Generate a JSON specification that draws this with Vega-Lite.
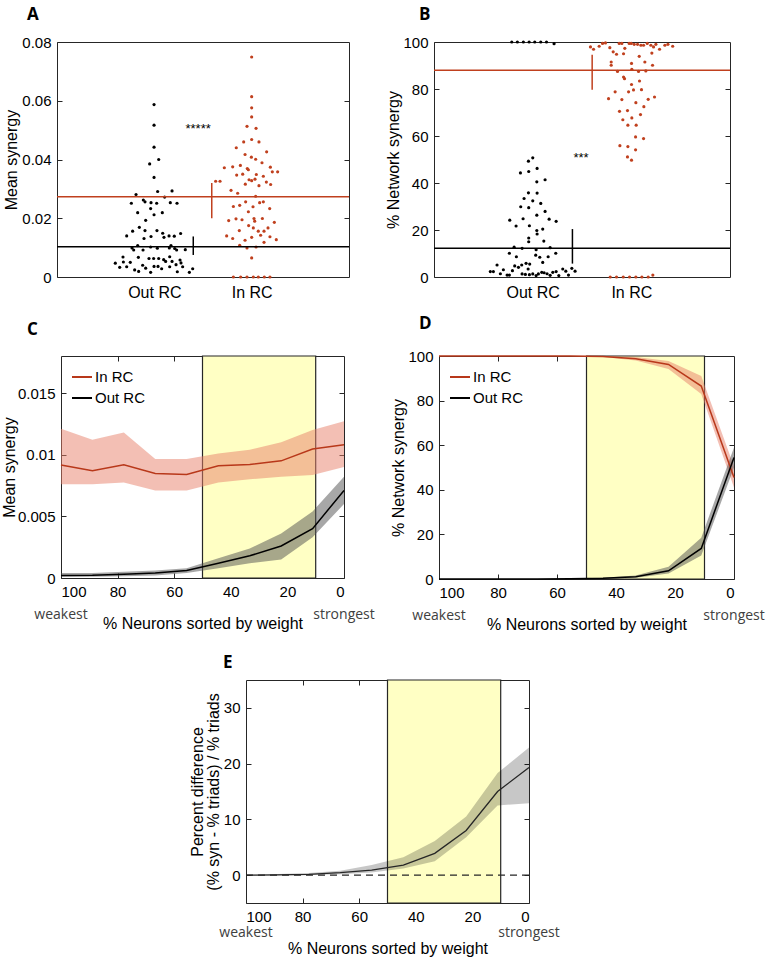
{
"$schema": "https://vega.github.io/schema/vega-lite/v6.json",
"padding": {"left": 0, "top": 5, "right": 5, "bottom": 5},
"background": "white",
"config": {
 "font": "Arial",
 "view": {"stroke": "#262626", "strokeWidth": 1},
 "axis": {"grid": false, "domain": false, "tickSize": -5, "tickColor": "#262626", "labelFontSize": 15, "labelColor": "#000", "labelPadding": 11, "titleFontSize": 16, "titleFontWeight": "normal", "titleColor": "#000", "labelFont": "Arial", "titleFont": "Arial"},
 "title": {"font": "Open Sans", "fontSize": 17, "fontWeight": "bold", "anchor": "start", "frame": "group", "baseline": "alphabetic", "color": "#000"},
 "legend": {"symbolType": "stroke", "symbolStrokeWidth": 2, "symbolSize": 400, "labelFontSize": 15, "labelFont": "Arial", "labelColor": "#000", "rowPadding": 2, "padding": 0, "offset": 10, "labelOffset": 2}
},
"datasets": {
 "Aout": [{"x":0.997,"y":0.0587},{"x":0.997,"y":0.0517},{"x":0.997,"y":0.0442},{"x":0.952,"y":0.0385},{"x":1.045,"y":0.04},{"x":0.997,"y":0.0339},{"x":1.034,"y":0.0291},{"x":1.182,"y":0.0293},{"x":0.812,"y":0.0281},{"x":0.764,"y":0.0251},{"x":0.887,"y":0.0262},{"x":0.904,"y":0.0256},{"x":0.966,"y":0.0253},{"x":1.024,"y":0.0251},{"x":1.106,"y":0.0272},{"x":1.164,"y":0.0253},{"x":1.233,"y":0.0251},{"x":0.962,"y":0.0233},{"x":0.829,"y":0.0219},{"x":0.997,"y":0.0212},{"x":1.082,"y":0.0219},{"x":0.911,"y":0.0193},{"x":0.777,"y":0.0156},{"x":0.716,"y":0.014},{"x":0.846,"y":0.0169},{"x":0.904,"y":0.0158},{"x":0.894,"y":0.0131},{"x":0.966,"y":0.0138},{"x":1.027,"y":0.0158},{"x":1.086,"y":0.0149},{"x":1.099,"y":0.0135},{"x":1.151,"y":0.014},{"x":1.205,"y":0.0139},{"x":1.27,"y":0.0148},{"x":0.771,"y":0.0099},{"x":0.788,"y":0.0092},{"x":0.829,"y":0.0107},{"x":0.884,"y":0.0092},{"x":0.962,"y":0.0102},{"x":1.031,"y":0.0098},{"x":1.154,"y":0.0099},{"x":1.171,"y":0.0107},{"x":1.209,"y":0.0097},{"x":1.229,"y":0.0092},{"x":1.318,"y":0.0093},{"x":0.599,"y":0.0047},{"x":0.644,"y":0.0033},{"x":0.678,"y":0.0068},{"x":0.682,"y":0.0051},{"x":0.716,"y":0.0035},{"x":0.753,"y":0.005},{"x":0.798,"y":0.0024},{"x":0.836,"y":0.0067},{"x":0.839,"y":0.0019},{"x":0.88,"y":0.004},{"x":0.911,"y":0.003},{"x":0.945,"y":0.0063},{"x":0.962,"y":0.0016},{"x":0.997,"y":0.0036},{"x":0.993,"y":0.0063},{"x":1.038,"y":0.0036},{"x":1.045,"y":0.0063},{"x":1.075,"y":0.0028},{"x":1.096,"y":0.0059},{"x":1.116,"y":0.0053},{"x":1.158,"y":0.0069},{"x":1.158,"y":0.0035},{"x":1.182,"y":0.0053},{"x":1.223,"y":0.0042},{"x":1.236,"y":0.0018},{"x":1.264,"y":0.0058},{"x":1.274,"y":0.0048},{"x":1.291,"y":0.0035},{"x":1.36,"y":0.0016},{"x":1.394,"y":0.0028}],
 "Ain": [{"x":2.0,"y":0.0749},{"x":2.0,"y":0.0614},{"x":2.0,"y":0.0576},{"x":2.0,"y":0.0545},{"x":1.952,"y":0.0513},{"x":2.045,"y":0.0506},{"x":1.842,"y":0.044},{"x":1.918,"y":0.046},{"x":2.0,"y":0.0468},{"x":2.075,"y":0.046},{"x":1.932,"y":0.0417},{"x":2.154,"y":0.0426},{"x":1.997,"y":0.0408},{"x":2.041,"y":0.0401},{"x":2.106,"y":0.0389},{"x":1.719,"y":0.0372},{"x":1.805,"y":0.0375},{"x":1.884,"y":0.038},{"x":1.955,"y":0.0369},{"x":2.192,"y":0.0374},{"x":1.846,"y":0.0347},{"x":1.908,"y":0.035},{"x":1.966,"y":0.0365},{"x":2.048,"y":0.0349},{"x":2.12,"y":0.0343},{"x":2.212,"y":0.0358},{"x":2.267,"y":0.0358},{"x":1.63,"y":0.0326},{"x":1.675,"y":0.0326},{"x":1.935,"y":0.0316},{"x":1.973,"y":0.0331},{"x":2.0,"y":0.0328},{"x":2.034,"y":0.0333},{"x":2.075,"y":0.0311},{"x":2.151,"y":0.0323},{"x":2.195,"y":0.0315},{"x":1.788,"y":0.0295},{"x":1.856,"y":0.0285},{"x":2.041,"y":0.0275},{"x":1.938,"y":0.0256},{"x":2.12,"y":0.0256},{"x":1.812,"y":0.024},{"x":1.877,"y":0.0244},{"x":1.966,"y":0.0222},{"x":2.014,"y":0.0239},{"x":2.082,"y":0.0253},{"x":2.185,"y":0.0233},{"x":1.764,"y":0.0192},{"x":1.839,"y":0.0198},{"x":1.901,"y":0.0195},{"x":2.024,"y":0.0199},{"x":2.031,"y":0.019},{"x":2.11,"y":0.0199},{"x":1.969,"y":0.0175},{"x":1.873,"y":0.0158},{"x":2.017,"y":0.0167},{"x":2.068,"y":0.0156},{"x":2.127,"y":0.0156},{"x":2.168,"y":0.0167},{"x":2.233,"y":0.0186},{"x":1.743,"y":0.014},{"x":1.805,"y":0.0131},{"x":1.932,"y":0.0125},{"x":2.0,"y":0.0135},{"x":2.092,"y":0.0142},{"x":2.188,"y":0.0137},{"x":2.253,"y":0.0127},{"x":1.877,"y":0.0108},{"x":1.952,"y":0.0099},{"x":2.045,"y":0.0102},{"x":2.127,"y":0.0118},{"x":2.0,"y":0.0065},{"x":1.812,"y":0},{"x":1.887,"y":0},{"x":1.952,"y":0},{"x":2.017,"y":0},{"x":2.068,"y":0},{"x":2.13,"y":0},{"x":2.188,"y":0}],
 "Astats": [{"group":"Out RC","mean":0.0103,"ex":1.4,"lo":0.0075,"hi":0.0138},{"group":"In RC","mean":0.0273,"ex":1.59,"lo":0.02,"hi":0.032}],
 "Astar": [{"x":1.45,"y":0.0505,"label":"*****"}],
 "Bout": [{"x":0.788,"y":100},{"x":0.845,"y":100},{"x":0.906,"y":100},{"x":0.964,"y":100},{"x":1.021,"y":100},{"x":1.082,"y":100},{"x":1.14,"y":100},{"x":1.217,"y":99.3},{"x":1.001,"y":50.7},{"x":0.957,"y":49.3},{"x":1.045,"y":46.2},{"x":0.876,"y":44.3},{"x":0.96,"y":44.9},{"x":1.126,"y":41.4},{"x":1.042,"y":40.5},{"x":0.957,"y":35.8},{"x":1.045,"y":35.7},{"x":0.913,"y":33.4},{"x":1.001,"y":32.4},{"x":1.082,"y":31.3},{"x":0.879,"y":29.9},{"x":0.96,"y":29.5},{"x":1.126,"y":27.9},{"x":1.042,"y":26.3},{"x":0.768,"y":24.2},{"x":0.903,"y":24.8},{"x":1.167,"y":24.6},{"x":1.238,"y":23.7},{"x":0.832,"y":21.7},{"x":0.967,"y":21.8},{"x":1.102,"y":20.4},{"x":1.042,"y":19.8},{"x":1.045,"y":18.3},{"x":0.96,"y":16.6},{"x":0.96,"y":15.0},{"x":1.113,"y":15.3},{"x":0.812,"y":12.7},{"x":0.893,"y":12.2},{"x":1.035,"y":11.6},{"x":1.177,"y":12.5},{"x":0.764,"y":10.1},{"x":1.234,"y":10.1},{"x":0.835,"y":8.6},{"x":1.072,"y":8.4},{"x":1.157,"y":8.6},{"x":1.031,"y":9.3},{"x":1.102,"y":6.2},{"x":0.639,"y":5.1},{"x":0.818,"y":4.7},{"x":0.856,"y":4.1},{"x":0.889,"y":5.1},{"x":0.933,"y":5.8},{"x":0.97,"y":5.5},{"x":0.954,"y":3.4},{"x":0.571,"y":2.3},{"x":0.602,"y":2.3},{"x":0.703,"y":3.1},{"x":0.673,"y":1.4},{"x":0.741,"y":0.8},{"x":0.764,"y":0.8},{"x":0.795,"y":2.7},{"x":0.893,"y":1.3},{"x":0.926,"y":1.1},{"x":0.967,"y":1.0},{"x":1.001,"y":1.3},{"x":1.035,"y":0.6},{"x":1.058,"y":1.3},{"x":1.092,"y":2.0},{"x":1.116,"y":1.8},{"x":1.146,"y":1.4},{"x":1.177,"y":0.7},{"x":1.204,"y":2.0},{"x":1.238,"y":2.3},{"x":1.265,"y":0.6},{"x":1.305,"y":3.4},{"x":1.336,"y":2.5},{"x":1.363,"y":0.8},{"x":1.397,"y":3.7},{"x":1.43,"y":2.5}],
 "Bin": [{"x":1.586,"y":97.9},{"x":1.617,"y":96.9},{"x":1.674,"y":98.2},{"x":1.708,"y":99.4},{"x":1.738,"y":99.6},{"x":1.782,"y":97.6},{"x":1.816,"y":95.8},{"x":1.85,"y":94.8},{"x":1.877,"y":99.4},{"x":1.904,"y":99.4},{"x":1.921,"y":95.0},{"x":1.934,"y":97.3},{"x":1.978,"y":99.4},{"x":1.999,"y":99.4},{"x":2.029,"y":99.0},{"x":2.063,"y":99.0},{"x":2.097,"y":98.6},{"x":2.124,"y":98.6},{"x":2.161,"y":99.4},{"x":2.198,"y":98.6},{"x":2.225,"y":97.9},{"x":2.249,"y":99.0},{"x":2.286,"y":96.9},{"x":2.34,"y":98.6},{"x":2.371,"y":99.0},{"x":2.419,"y":98.2},{"x":1.796,"y":91.5},{"x":1.796,"y":90.1},{"x":2.002,"y":90.9},{"x":2.137,"y":91.5},{"x":2.215,"y":90.1},{"x":2.208,"y":95.3},{"x":2.08,"y":93.9},{"x":1.86,"y":87.5},{"x":2.005,"y":88.4},{"x":2.073,"y":87.5},{"x":2.147,"y":87.7},{"x":1.921,"y":85.1},{"x":1.931,"y":84.4},{"x":2.083,"y":83.4},{"x":2.002,"y":81.9},{"x":2.022,"y":79.6},{"x":2.103,"y":79.7},{"x":1.836,"y":78.8},{"x":1.972,"y":78.8},{"x":1.769,"y":75.9},{"x":1.904,"y":75.5},{"x":2.046,"y":74.2},{"x":2.171,"y":75.6},{"x":2.235,"y":76.6},{"x":2.127,"y":72.5},{"x":1.88,"y":70.5},{"x":1.961,"y":70.8},{"x":2.093,"y":69.1},{"x":1.914,"y":66.9},{"x":2.005,"y":67.7},{"x":2.049,"y":64.6},{"x":1.965,"y":64.6},{"x":2.043,"y":59.6},{"x":2.124,"y":58.9},{"x":1.884,"y":55.9},{"x":1.965,"y":55.5},{"x":2.043,"y":54.1},{"x":1.961,"y":51.1},{"x":2.002,"y":49.7},{"x":1.786,"y":0},{"x":1.85,"y":0},{"x":1.918,"y":0},{"x":1.982,"y":0},{"x":2.046,"y":0},{"x":2.107,"y":0},{"x":2.171,"y":0},{"x":2.218,"y":0.8}],
 "Bstats": [{"group":"Out RC","mean":12.2,"ex":1.403,"lo":5.7,"hi":20.4},{"group":"In RC","mean":88.0,"ex":1.603,"lo":79.7,"hi":94.6}],
 "Bstar": [{"x":1.49,"y":50.8,"label":"***"}],
 "C": [
  {"series":"In RC","x":100,"mean":0.00916,"lo":0.0076,"hi":0.0121},
  {"series":"In RC","x":88.9,"mean":0.0087,"lo":0.0076,"hi":0.0112},
  {"series":"In RC","x":77.8,"mean":0.00918,"lo":0.00775,"hi":0.0118},
  {"series":"In RC","x":66.7,"mean":0.00848,"lo":0.0071,"hi":0.00965},
  {"series":"In RC","x":55.6,"mean":0.0084,"lo":0.0071,"hi":0.00965},
  {"series":"In RC","x":44.4,"mean":0.0091,"lo":0.00775,"hi":0.0101},
  {"series":"In RC","x":33.3,"mean":0.0092,"lo":0.008,"hi":0.0104},
  {"series":"In RC","x":22.2,"mean":0.0095,"lo":0.0082,"hi":0.011},
  {"series":"In RC","x":11.1,"mean":0.01046,"lo":0.00835,"hi":0.012},
  {"series":"In RC","x":0,"mean":0.0108,"lo":0.009,"hi":0.0127},
  {"series":"Out RC","x":100,"mean":0.0002,"lo":0.0001,"hi":0.0004},
  {"series":"Out RC","x":88.9,"mean":0.00022,"lo":0.0001,"hi":0.0004},
  {"series":"Out RC","x":77.8,"mean":0.0003,"lo":0.00015,"hi":0.0005},
  {"series":"Out RC","x":66.7,"mean":0.0004,"lo":0.0002,"hi":0.0006},
  {"series":"Out RC","x":55.6,"mean":0.0006,"lo":0.0004,"hi":0.0008},
  {"series":"Out RC","x":44.4,"mean":0.0012,"lo":0.0008,"hi":0.0016},
  {"series":"Out RC","x":33.3,"mean":0.0018,"lo":0.0012,"hi":0.0024},
  {"series":"Out RC","x":22.2,"mean":0.0026,"lo":0.0015,"hi":0.0036},
  {"series":"Out RC","x":11.1,"mean":0.004,"lo":0.0033,"hi":0.0054},
  {"series":"Out RC","x":0,"mean":0.0071,"lo":0.006,"hi":0.0082}
 ],
 "D": [
  {"series":"In RC","x":100,"mean":100,"lo":100,"hi":100},
  {"series":"In RC","x":88.9,"mean":100,"lo":100,"hi":100},
  {"series":"In RC","x":77.8,"mean":100,"lo":100,"hi":100},
  {"series":"In RC","x":66.7,"mean":100,"lo":100,"hi":100},
  {"series":"In RC","x":55.6,"mean":100,"lo":99.9,"hi":100},
  {"series":"In RC","x":44.4,"mean":99.8,"lo":99.5,"hi":100},
  {"series":"In RC","x":33.3,"mean":98.8,"lo":98.0,"hi":99.5},
  {"series":"In RC","x":22.2,"mean":96.2,"lo":94.2,"hi":97.8},
  {"series":"In RC","x":11.1,"mean":86.5,"lo":83.0,"hi":91.0},
  {"series":"In RC","x":0,"mean":45.5,"lo":41.0,"hi":50.5},
  {"series":"Out RC","x":100,"mean":0,"lo":0,"hi":0},
  {"series":"Out RC","x":88.9,"mean":0,"lo":0,"hi":0},
  {"series":"Out RC","x":77.8,"mean":0,"lo":0,"hi":0},
  {"series":"Out RC","x":66.7,"mean":0,"lo":0,"hi":0.05},
  {"series":"Out RC","x":55.6,"mean":0.1,"lo":0,"hi":0.2},
  {"series":"Out RC","x":44.4,"mean":0.3,"lo":0.1,"hi":0.6},
  {"series":"Out RC","x":33.3,"mean":1.0,"lo":0.6,"hi":1.6},
  {"series":"Out RC","x":22.2,"mean":3.7,"lo":2.5,"hi":5.5},
  {"series":"Out RC","x":11.1,"mean":13.7,"lo":10.5,"hi":18.5},
  {"series":"Out RC","x":0,"mean":54.5,"lo":50.0,"hi":59.0}
 ],
 "E": [
  {"x":100,"mean":0,"lo":0,"hi":0.05},
  {"x":88.9,"mean":0.05,"lo":0,"hi":0.2},
  {"x":77.8,"mean":0.15,"lo":0.02,"hi":0.4},
  {"x":66.7,"mean":0.45,"lo":0.15,"hi":0.8},
  {"x":55.6,"mean":0.9,"lo":0.45,"hi":1.8},
  {"x":44.4,"mean":1.8,"lo":1.2,"hi":3.2},
  {"x":33.3,"mean":3.9,"lo":2.5,"hi":6.1},
  {"x":22.2,"mean":8.0,"lo":6.8,"hi":10.5},
  {"x":11.1,"mean":15.0,"lo":12.5,"hi":18.3},
  {"x":0,"mean":19.3,"lo":12.9,"hi":22.9}
 ],
 "ends": [{"x":100,"label":"weakest"},{"x":0,"label":"strongest"}],
 "box": [{"start":50,"end":10}],
 "zero": [{"y":0}]
},
"bounds": "flush",
"spacing": 314,
"vconcat": [
 {"hconcat": [
  {"width": 292, "height": 235,
   "title": {"text": "A", "dx": -30, "offset": 11},
   "resolve": {"axis": {"y": "independent"}},
   "layer": [
    {"data": {"name": "Aout"}, "mark": {"type": "circle", "size": 10, "color": "#000", "opacity": 1},
     "encoding": {"x": {"field": "x", "type": "quantitative", "scale": {"domain": [0, 3], "nice": false, "zero": false}, "axis": {"values": [1, 2], "labelExpr": "datum.value == 1 ? 'Out RC' : 'In RC'", "ticks": false, "title": null, "labelPadding": 7, "labelFontSize": 16}},
      "y": {"field": "y", "type": "quantitative", "scale": {"domain": [0, 0.08], "nice": false}, "axis": {"values": [0, 0.02, 0.04, 0.06, 0.08], "format": "~g", "title": "Mean synergy", "titlePadding": 2}}}},
    {"data": {"name": "Ain"}, "mark": {"type": "circle", "size": 10, "color": "#c0401e", "opacity": 1},
     "encoding": {"x": {"field": "x", "type": "quantitative"}, "y": {"field": "y", "type": "quantitative", "axis": null}}},
    {"data": {"name": "Astats"}, "mark": {"type": "rule", "strokeWidth": 1.5},
     "encoding": {"y": {"field": "mean", "type": "quantitative", "axis": null}, "color": {"field": "group", "type": "nominal", "scale": {"domain": ["Out RC", "In RC"], "range": ["#000000", "#c0401e"]}, "legend": null}}},
    {"data": {"name": "Astats"}, "mark": {"type": "rule", "strokeWidth": 1.5},
     "encoding": {"x": {"field": "ex", "type": "quantitative"}, "y": {"field": "lo", "type": "quantitative", "axis": null}, "y2": {"field": "hi"}, "color": {"field": "group", "type": "nominal", "legend": null}}},
    {"data": {"name": "Astar"}, "mark": {"type": "text", "fontSize": 13, "baseline": "middle", "color": "#000"},
     "encoding": {"x": {"field": "x", "type": "quantitative"}, "y": {"field": "y", "type": "quantitative", "axis": {"orient": "right", "labels": false, "title": null, "values": [0.02, 0.04, 0.06]}}, "text": {"field": "label"}}}
   ]},
  {"width": 296, "height": 235,
   "title": {"text": "B", "dx": -15, "offset": 11},
   "resolve": {"axis": {"y": "independent"}},
   "layer": [
    {"data": {"name": "Bout"}, "mark": {"type": "circle", "size": 10, "color": "#000", "opacity": 1},
     "encoding": {"x": {"field": "x", "type": "quantitative", "scale": {"domain": [0, 3], "nice": false, "zero": false}, "axis": {"values": [1, 2], "labelExpr": "datum.value == 1 ? 'Out RC' : 'In RC'", "ticks": false, "title": null, "labelPadding": 7, "labelFontSize": 16}},
      "y": {"field": "y", "type": "quantitative", "scale": {"domain": [0, 100], "nice": false}, "axis": {"values": [0, 20, 40, 60, 80, 100], "title": "% Network synergy", "titlePadding": 1}}}},
    {"data": {"name": "Bin"}, "mark": {"type": "circle", "size": 10, "color": "#c0401e", "opacity": 1},
     "encoding": {"x": {"field": "x", "type": "quantitative"}, "y": {"field": "y", "type": "quantitative", "axis": null}}},
    {"data": {"name": "Bstats"}, "mark": {"type": "rule", "strokeWidth": 1.5},
     "encoding": {"y": {"field": "mean", "type": "quantitative", "axis": null}, "color": {"field": "group", "type": "nominal", "scale": {"domain": ["Out RC", "In RC"], "range": ["#000000", "#c0401e"]}, "legend": null}}},
    {"data": {"name": "Bstats"}, "mark": {"type": "rule", "strokeWidth": 1.5},
     "encoding": {"x": {"field": "ex", "type": "quantitative"}, "y": {"field": "lo", "type": "quantitative", "axis": null}, "y2": {"field": "hi"}, "color": {"field": "group", "type": "nominal", "legend": null}}},
    {"data": {"name": "Bstar"}, "mark": {"type": "text", "fontSize": 13, "baseline": "middle", "color": "#000"},
     "encoding": {"x": {"field": "x", "type": "quantitative"}, "y": {"field": "y", "type": "quantitative", "axis": {"orient": "right", "labels": false, "title": null, "values": [20, 40, 60, 80]}}, "text": {"field": "label"}}}
   ]}
 ], "spacing": 85, "bounds": "flush"},
 {"vconcat": [
  {"hconcat": [
   {"width": 4, "height": 10, "view": {"stroke": null}, "data": {"values": []}, "mark": {"type": "point", "opacity": 0}},
   {"width": 283, "height": 222,
    "title": {"text": "C", "dx": -34, "offset": 16},
    "resolve": {"scale": {"color": "independent"}, "axis": {"x": "independent", "y": "independent"}},
    "layer": [
     {"data": {"name": "box"}, "mark": {"type": "rect", "fill": "#ffffc4", "stroke": "#262626", "strokeWidth": 1.2},
      "encoding": {"x": {"field": "start", "type": "quantitative", "scale": {"domain": [0, 100], "reverse": true, "nice": false}, "axis": null}, "x2": {"field": "end"}}},
     {"data": {"name": "C"}, "mark": {"type": "area", "opacity": 0.5},
      "encoding": {"x": {"field": "x", "type": "quantitative", "axis": null}, "y": {"field": "lo", "type": "quantitative", "scale": {"domain": [0, 0.018], "nice": false}, "axis": null}, "y2": {"field": "hi"},
       "color": {"field": "series", "type": "nominal", "scale": {"domain": ["In RC", "Out RC"], "range": ["#e8806a", "#505050"]}, "legend": null}}},
     {"data": {"name": "C"}, "mark": {"type": "line", "strokeWidth": 1.5},
      "encoding": {"x": {"field": "x", "type": "quantitative", "axis": {"values": [100, 80, 60, 40, 20, 0], "title": "% Neurons sorted by weight", "titlePadding": 16}},
       "y": {"field": "mean", "type": "quantitative", "axis": {"values": [0, 0.005, 0.01, 0.015], "format": "~g", "title": "Mean synergy", "titlePadding": 0}},
       "color": {"field": "series", "type": "nominal", "scale": {"domain": ["In RC", "Out RC"], "range": ["#b8381a", "#000000"]}, "legend": {"orient": "top-left", "title": null}}}},
     {"data": {"name": "ends"}, "mark": {"type": "text", "font": "Open Sans", "fontSize": 14, "color": "#404040", "dy": 37, "baseline": "middle"},
      "encoding": {"x": {"field": "x", "type": "quantitative", "axis": {"orient": "top", "labels": false, "title": null, "values": [80, 60, 40, 20]}},
       "y": {"datum": 0, "type": "quantitative", "axis": {"orient": "right", "labels": false, "title": null, "values": [0.005, 0.01, 0.015]}}, "text": {"field": "label"}}}
    ]},
   {"width": 95, "height": 10, "view": {"stroke": null}, "data": {"values": []}, "mark": {"type": "point", "opacity": 0}},
   {"width": 295, "height": 223,
    "title": {"text": "D", "dx": -20, "offset": 16},
    "resolve": {"scale": {"color": "independent"}, "axis": {"x": "independent", "y": "independent"}},
    "layer": [
     {"data": {"name": "box"}, "mark": {"type": "rect", "fill": "#ffffc4", "stroke": "#262626", "strokeWidth": 1.2},
      "encoding": {"x": {"field": "start", "type": "quantitative", "scale": {"domain": [0, 100], "reverse": true, "nice": false}, "axis": null}, "x2": {"field": "end"}}},
     {"data": {"name": "D"}, "mark": {"type": "area", "opacity": 0.5},
      "encoding": {"x": {"field": "x", "type": "quantitative", "axis": null}, "y": {"field": "lo", "type": "quantitative", "scale": {"domain": [0, 100], "nice": false}, "axis": null}, "y2": {"field": "hi"},
       "color": {"field": "series", "type": "nominal", "scale": {"domain": ["In RC", "Out RC"], "range": ["#e8806a", "#505050"]}, "legend": null}}},
     {"data": {"name": "D"}, "mark": {"type": "line", "strokeWidth": 1.5},
      "encoding": {"x": {"field": "x", "type": "quantitative", "axis": {"values": [100, 80, 60, 40, 20, 0], "title": "% Neurons sorted by weight", "titlePadding": 16}},
       "y": {"field": "mean", "type": "quantitative", "axis": {"values": [0, 20, 40, 60, 80, 100], "title": "% Network synergy", "titlePadding": 1}},
       "color": {"field": "series", "type": "nominal", "scale": {"domain": ["In RC", "Out RC"], "range": ["#b8381a", "#000000"]}, "legend": {"orient": "top-left", "title": null}}}},
     {"data": {"name": "ends"}, "mark": {"type": "text", "font": "Open Sans", "fontSize": 14, "color": "#404040", "dy": 37, "baseline": "middle"},
      "encoding": {"x": {"field": "x", "type": "quantitative", "axis": {"orient": "top", "labels": false, "title": null, "values": [80, 60, 40, 20]}},
       "y": {"datum": 0, "type": "quantitative", "axis": {"orient": "right", "labels": false, "title": null, "values": [20, 40, 60, 80]}}, "text": {"field": "label"}}}
    ]}
  ], "spacing": 0, "bounds": "flush"},
  {"hconcat": [
   {"width": 189, "height": 10, "view": {"stroke": null}, "data": {"values": []}, "mark": {"type": "point", "opacity": 0}},
   {"width": 283, "height": 223,
    "title": {"text": "E", "dx": -23, "offset": 7},
    "resolve": {"axis": {"x": "independent", "y": "independent"}},
    "layer": [
     {"data": {"name": "box"}, "mark": {"type": "rect", "fill": "#ffffc4", "stroke": "#262626", "strokeWidth": 1.2},
      "encoding": {"x": {"field": "start", "type": "quantitative", "scale": {"domain": [0, 100], "reverse": true, "nice": false}, "axis": null}, "x2": {"field": "end"}}},
     {"data": {"name": "E"}, "mark": {"type": "area", "opacity": 0.22, "color": "#000"},
      "encoding": {"x": {"field": "x", "type": "quantitative", "axis": null}, "y": {"field": "lo", "type": "quantitative", "scale": {"domain": [-5, 35], "nice": false, "zero": false}, "axis": null}, "y2": {"field": "hi"}}},
     {"data": {"name": "zero"}, "mark": {"type": "rule", "strokeDash": [7, 5], "color": "#262626", "strokeWidth": 1.2},
      "encoding": {"y": {"field": "y", "type": "quantitative", "axis": null}}},
     {"data": {"name": "E"}, "mark": {"type": "line", "strokeWidth": 1.3, "color": "#262626"},
      "encoding": {"x": {"field": "x", "type": "quantitative", "axis": {"values": [100, 80, 60, 40, 20, 0], "title": "% Neurons sorted by weight", "titlePadding": 16}},
       "y": {"field": "mean", "type": "quantitative", "axis": {"values": [0, 10, 20, 30], "title": ["Percent difference", "(% syn - % triads) / % triads"], "titleLineHeight": 16, "titlePadding": 2}}}},
     {"data": {"name": "ends"}, "mark": {"type": "text", "font": "Open Sans", "fontSize": 14, "color": "#404040", "dy": 30, "baseline": "middle"},
      "encoding": {"x": {"field": "x", "type": "quantitative", "axis": {"orient": "top", "labels": false, "title": null, "values": [80, 60, 40, 20]}},
       "y": {"datum": -5, "type": "quantitative", "axis": {"orient": "right", "labels": false, "title": null, "values": [0, 10, 20, 30]}}, "text": {"field": "label"}}}
    ]}
  ], "spacing": 0, "bounds": "flush"}
 ], "spacing": 324, "bounds": "flush"}
]
}
